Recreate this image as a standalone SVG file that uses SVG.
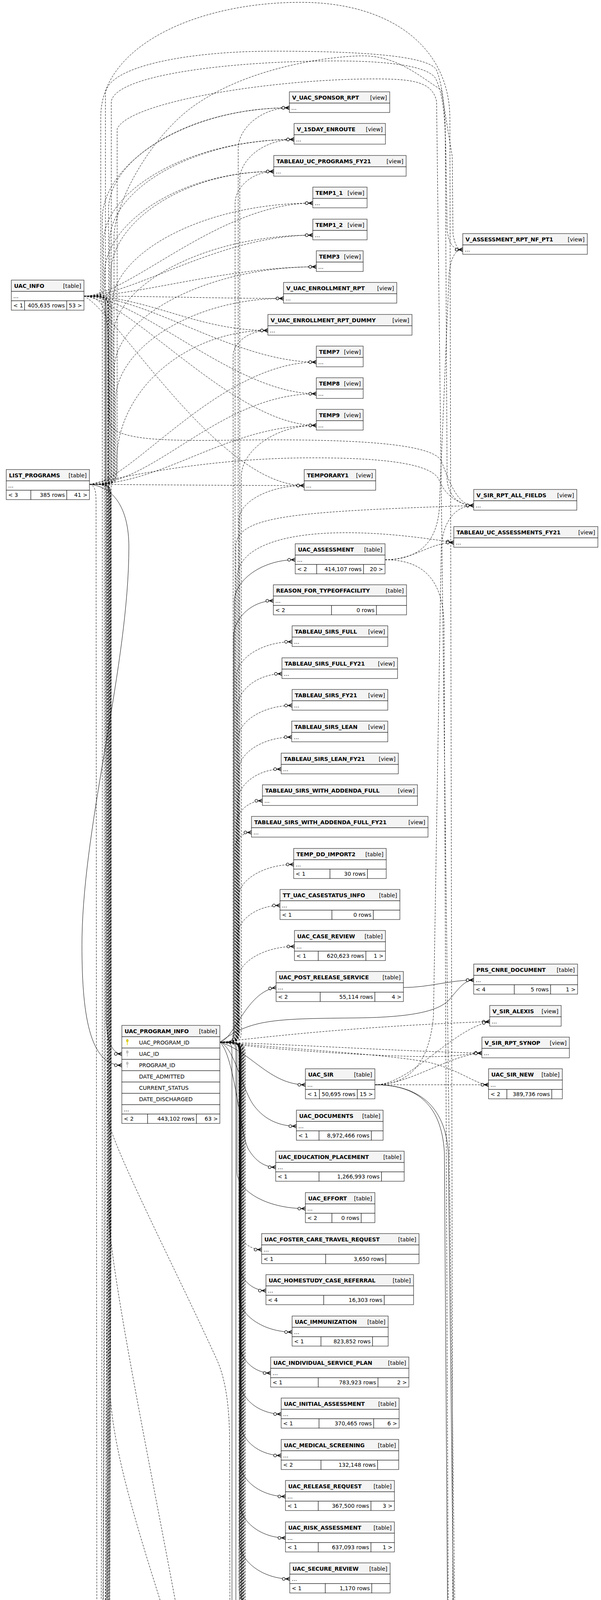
<svg xmlns="http://www.w3.org/2000/svg" xmlns:xlink="http://www.w3.org/1999/xlink" width="1539" height="6372" viewBox="0 0 1539 6372">
<style>
.hd{fill:#f4f4f4;stroke:#2a2a2a;stroke-width:1.2}
.bd{fill:#fff;stroke:#2a2a2a;stroke-width:1.2}
.nm{font-family:"DejaVu Sans","Liberation Sans",sans-serif;font-size:14px;font-weight:bold;fill:#000}
.tx{font-family:"DejaVu Sans","Liberation Sans",sans-serif;font-size:14px;fill:#000}
.e{text-anchor:end}
#connectors path{fill:none;stroke:#000;stroke-width:1}
#connectors .d{stroke-dasharray:5 3;marker-end:url(#cf)}
#connectors .s{marker-end:url(#cf)}
.thick{fill:none;stroke:#000;stroke-width:2.6}
</style>
<defs>
<marker id="cf" viewBox="0 0 22 14" refX="21" refY="7" markerWidth="22" markerHeight="14" markerUnits="userSpaceOnUse" orient="auto">
<circle cx="5.5" cy="7" r="3.6" fill="#fff" stroke="#000" stroke-width="1.4"/>
<path d="M9,7H21M11,7L21,2.5M11,7L21,11.5" fill="none" stroke="#000" stroke-width="1.4"/>
</marker>
<g id="kY"><ellipse cx="0" cy="-4" rx="2.6" ry="3.5" fill="#e6d300" stroke="#a89a00" stroke-width="0.6"/><rect x="-0.8" y="-1" width="1.6" height="8.5" fill="#e6d300"/></g>
<g id="kG"><ellipse cx="0" cy="-4" rx="2.6" ry="3.5" fill="#c4c4c4" stroke="#999" stroke-width="0.6"/><rect x="-0.8" y="-1" width="1.6" height="8.5" fill="#c4c4c4"/></g>
</defs>
<rect width="1539" height="6372" fill="#fff"/>

<g id="connectors">
<path class="d" d="M215,758 C262,758 262,758 262,718 L262,560 C262,418 478,276 741,276"/>
<path class="d" d="M215,758 C265,758 265,758 265,718 L265,620 C265,488 485,357 753,357"/>
<path class="d" d="M215,758 C268,758 268,758 268,718 L268,700 C268,570 464,439 701,439"/>
<path class="d" d="M215,758 C330,758 560,520 801,520"/>
<path class="d" d="M215,758 C340,758 560,602 801,602"/>
<path class="d" d="M215,758 C350,758 580,683 810,683"/>
<path class="d" d="M215,758 C400,758 550,764 726,764"/>
<path class="d" d="M215,758 C380,758 500,846 686,846"/>
<path class="d" d="M215,758 C380,758 600,927 810,927"/>
<path class="d" d="M215,758 C360,760 600,1008 810,1008"/>
<path class="d" d="M215,758 C340,770 600,1089 810,1089"/>
<path class="d" d="M215,758 C300,800 560,1243 779,1243"/>
<path class="d" d="M229,1240 C278,1240 278,1240 278,1200 L278,536 C278,406 486,276 741,276"/>
<path class="d" d="M229,1240 C281,1240 281,1240 281,1200 L281,617 C281,487 493,357 753,357"/>
<path class="d" d="M229,1240 C284,1240 284,1240 284,1200 L284,699 C284,569 472,439 701,439"/>
<path class="d" d="M229,1240 C287,1240 287,1240 287,1200 L287,780 C287,650 518,520 801,520"/>
<path class="d" d="M229,1240 C290,1240 290,1240 290,1200 L290,862 C290,732 520,602 801,602"/>
<path class="d" d="M229,1240 C293,1240 293,1240 293,1200 L293,943 C293,813 526,683 810,683"/>
<path class="d" d="M229,1240 C296,1240 296,1240 296,1200 L296,1024 C296,894 490,764 726,764"/>
<path class="d" d="M229,1240 C299,1240 299,1240 299,1180 C299,1000 475,846 686,846"/>
<path class="d" d="M229,1240 C330,1240 560,927 810,927"/>
<path class="d" d="M229,1240 C400,1240 560,1008 810,1008"/>
<path class="d" d="M229,1240 C420,1240 580,1089 810,1089"/>
<path class="d" d="M229,1240 C400,1241 600,1243 779,1243"/>
<path class="d" d="M215,758 C258,758 258,758 258,718 L258,300 C258,120 500,6 770,6 C1000,6 1150,120 1152,300 L1160,4300 C1165,4400 1240,4438 1285,4438"/>
<path class="d" d="M229,1240 C270,1240 270,1240 270,1200 L270,240 C275,170 480,131 700,131 C900,131 1100,140 1118,180 C1130,210 1138,260 1140,320 L1145,1230 C1150,1275 1180,1294 1213,1294"/>
<path class="d" d="M215,758 C285,758 285,758 285,718 L285,260 C295,190 600,156 860,156 C1000,156 1095,170 1115,200 C1135,240 1140,300 1142,400 L1145,590 C1150,625 1160,639 1185,639"/>
<path class="d" d="M229,1240 C300,1240 300,1240 300,1200 L300,330 C330,260 700,202 960,202 C1060,202 1108,210 1118,260 L1168,4400 C1172,4500 1200,4555 1260,4555"/>
<path class="d" d="M229,1240 C292,1240 292,1240 292,1200 L292,600 C300,500 400,330 513,260 C650,170 850,143 930,143 C1020,143 1080,200 1130,230 L1158,400 L1160,600 C1165,625 1170,639 1185,639"/>
<path class="d" d="M229,1240 C400,1200 600,1172 800,1172 C1000,1172 1110,1190 1125,1230 C1140,1270 1180,1294 1213,1294"/>
<path class="d" d="M215,758 C270,760 276,800 278,900 L280,1080 C290,1140 500,1126 700,1126 C950,1126 1110,1140 1130,1180 C1150,1230 1170,1294 1213,1294"/>
<path class="d" d="M563,2668 C610,2668 610,2668 610,2628 L610,380 C610,328 670,276 741,276"/>
<path class="d" d="M563,2668 C614,2668 614,2668 614,2628 L614,460 C614,408 676,357 753,357"/>
<path class="d" d="M563,2668 C602,2668 602,2668 602,2628 L602,520 C602,480 646,439 701,439"/>
<path class="d" d="M563,2668 C597,2668 597,2668 597,2628 L597,910 C597,878 637,846 686,846"/>
<path class="d" d="M563,2668 C618,2668 618,2668 618,2628 L618,1220 C618,1154 704,1089 810,1089"/>
<path class="d" d="M563,2668 C612,2668 612,2668 612,2628 L612,1330 C612,1286 687,1243 779,1243"/>
<path class="d" d="M563,2668 C604,2668 604,2668 604,2628 L604,1400 C604,1320 750,1310 1213,1294"/>
<path class="d" d="M563,2668 C607,2668 607,2668 607,2628 L607,1480 C607,1380 800,1330 1162,1389"/>
<path class="s" d="M563,2668 C600,2668 600,2668 600,2628 L600,1540 C600,1486 670,1433 756,1433"/>
<path class="s" d="M563,2668 C598,2668 598,2668 598,2628 L598,1630 C598,1584 644,1538 700,1538"/>
<path class="d" d="M563,2668 C606,2668 606,2668 606,2628 L606,1730 C606,1686 670,1643 748,1643"/>
<path class="d" d="M563,2668 C608,2668 608,2668 608,2628 L608,1810 C608,1768 659,1725 722,1725"/>
<path class="d" d="M563,2668 C610,2668 610,2668 610,2628 L610,1890 C610,1848 672,1806 748,1806"/>
<path class="d" d="M563,2668 C612,2668 612,2668 612,2628 L612,1970 C612,1928 673,1887 747,1887"/>
<path class="d" d="M563,2668 C609,2668 609,2668 609,2628 L609,2050 C609,2010 659,1969 720,1969"/>
<path class="d" d="M563,2668 C605,2668 605,2668 605,2628 L605,2110 C605,2080 635,2050 672,2050"/>
<path class="d" d="M563,2668 C602,2668 602,2668 602,2628 L602,2170 C602,2150 621,2131 644,2131"/>
<path class="d" d="M563,2668 C611,2668 611,2668 611,2628 L611,2295 C611,2254 674,2213 752,2213"/>
<path class="d" d="M563,2668 C608,2668 608,2668 608,2628 L608,2395 C608,2356 657,2318 717,2318"/>
<path class="d" d="M563,2668 C610,2668 610,2668 610,2628 L610,2505 C610,2464 675,2423 754,2423"/>
<path class="s" d="M563,2668 C600,2660 630,2540 707,2528"/>
<path class="s" d="M563,2668 C640,2610 700,2608 900,2606 C1050,2605 1120,2590 1150,2560 C1175,2530 1190,2509 1213,2509"/>
<path class="s" d="M1033,2528 C1100,2528 1150,2509 1213,2509"/>
<path class="d" d="M563,2668 C800,2640 1000,2625 1254,2615"/>
<path class="d" d="M563,2668 C800,2676 1000,2690 1234,2696"/>
<path class="d" d="M563,2668 C700,2690 1000,2705 1100,2705 C1180,2705 1200,2696 1234,2696"/>
<path class="d" d="M563,2668 C800,2690 1000,2700 1100,2720 C1180,2740 1220,2777 1251,2777"/>
<path class="s" d="M563,2668 C640,2690 690,2777 782,2777"/>
<path class="s" d="M563,2668 C600,2680 620,2790 650,2830 C680,2870 720,2883 759,2883"/>
<path class="s" d="M563,2668 C600,2700 615,2900 635,2940 C655,2975 680,2988 706,2988"/>
<path class="s" d="M563,2668 C607,2668 607,2668 607,2708 L607,3000 C607,3047 680,3094 782,3094"/>
<path class="d" d="M563,2668 C612,2668 612,2668 612,2708 L612,3150 C612,3175 638,3199 670,3199"/>
<path class="s" d="M563,2668 C614,2668 614,2668 614,2708 L614,3240 C614,3272 644,3304 681,3304"/>
<path class="s" d="M563,2668 C612,2668 612,2668 612,2708 L612,3320 C612,3365 673,3410 748,3410"/>
<path class="s" d="M563,2668 C614,2668 614,2668 614,2708 L614,3440 C614,3478 649,3515 693,3515"/>
<path class="s" d="M563,2668 C616,2668 616,2668 616,2708 L616,3540 C616,3580 663,3620 720,3620"/>
<path class="s" d="M563,2668 C617,2668 617,2668 617,2708 L617,3645 C617,3686 663,3726 720,3726"/>
<path class="s" d="M563,2668 C615,2668 615,2668 615,2708 L615,3745 C615,3788 667,3831 731,3831"/>
<path class="s" d="M563,2668 C615,2668 615,2668 615,2708 L615,3850 C615,3894 667,3937 731,3937"/>
<path class="s" d="M563,2668 C614,2668 614,2668 614,2708 L614,3950 C614,3996 672,4042 742,4042"/>
<path class="d" d="M563,2668 C612,2668 612,2668 612,2708 L612,4065 C612,4106 663,4147 726,4147"/>
<path class="s" d="M563,2668 C613,2668 613,2668 613,2708 L613,4160 C613,4206 671,4252 742,4252"/>
<path class="d" d="M563,2668 C615,2668 615,2668 615,2708 L615,4275 C615,4316 667,4358 730,4358"/>
<path class="d" d="M563,2668 C618,2668 618,2668 618,2708 L618,4400 C618,4438 661,4475 713,4475"/>
<path class="d" d="M563,2668 C617,2668 617,2668 617,2708 L617,4490 C617,4524 655,4557 702,4557"/>
<path class="d" d="M563,2668 C622,2668 622,2668 622,2708 L622,4720 C622,4752 652,4783 688,4783"/>
<path class="d" d="M563,2668 C623,2668 623,2668 623,2708 L623,4790 C623,4826 664,4863 714,4863"/>
<path class="d" d="M563,2668 C620,2668 620,2668 620,2708 L620,4950 C620,4988 658,5025 704,5025"/>
<path class="s" d="M563,2668 C618,2668 618,2668 618,2708 L618,5050 C618,5090 665,5131 723,5131"/>
<path class="d" d="M563,2668 C616,2668 616,2668 616,2708 L616,5150 C616,5193 679,5236 756,5236"/>
<path class="s" d="M563,2668 C604,2668 604,2668 604,2708 L604,5290 C604,5322 645,5354 695,5354"/>
<path class="s" d="M563,2668 C594,2668 594,2668 594,2708 L594,5600 C594,5700 630,5745 665,5745"/>
<path class="d" d="M563,2668 C622,2668 622,2668 622,2708 L622,4330 C622,4390 800,4400 1000,4405 C1150,4410 1230,4438 1285,4438"/>
<path class="d" d="M563,2668 C624,2668 624,2668 624,2708 L624,4600 C627,4640 800,4648 1285,4637"/>
<path class="d" d="M563,2668 C626,2668 626,2668 626,2708 L626,4640 C642,4690 1000,4690 1223,4718"/>
<path class="d" d="M563,2668 C620,2668 620,2668 620,2708 L620,4540 C627,4600 750,4615 900,4610 C1100,4600 1180,4555 1260,4555"/>
<path class="d" d="M563,2668 C628,2668 628,2668 628,2708 L628,4690 C642,4725 800,4722 1000,4715 C1110,4712 1140,4740 1150,4800 L1160,5050 C1170,5130 1220,5165 1269,5165"/>
<path class="d" d="M960,2777 L1251,2777"/>
<path class="d" d="M960,2777 C1050,2777 1150,2700 1234,2696"/>
<path class="d" d="M960,2777 C1050,2777 1150,2640 1254,2615"/>
<path class="d" d="M960,2777 C1050,2777 1100,2720 1110,2600 L1130,1400 C1135,1330 1170,1294 1213,1294"/>
<path class="s" d="M960,2777 C1060,2777 1130,2820 1138,2950 L1150,4700 C1168,4880 1166,5000 1175,5090 C1185,5150 1230,5165 1269,5165"/>
<path class="s" d="M960,2777 C1070,2777 1140,2830 1148,2950 L1165,4450 C1170,4510 1210,4555 1260,4555"/>
<path class="d" d="M986,1433 C1060,1433 1100,1389 1162,1389"/>
<path class="d" d="M986,1433 C1080,1433 1120,1380 1125,1300 L1150,700 C1155,660 1165,639 1185,639"/>
<path class="d" d="M986,1433 C1080,1433 1135,1480 1137,1600 L1150,4600 C1155,4680 1190,4718 1223,4718"/>
<path class="s" d="M215,758 C272,758 272,758 272,800 L272,2600 C272,2670 290,2698 312,2698"/>
<path class="s" d="M229,1240 C290,1245 330,1300 330,1400 C330,1700 215,2100 210,2400 C208,2600 230,2727 312,2727"/>
<path class="d" d="M215,758 C276,758 276,758 276,800 L276,2860 C280,2920 450,3250 555,3480 C582,3540 588,3620 588,3700 L590,4700 C592,4750 630,4783 688,4783"/>
<path class="d" d="M229,1240 C280,1240 280,1240 280,1280 L280,3000 L270,4620 C280,4720 540,4783 688,4783"/>
<path class="d" d="M215,758 C276,758 276,758 276,800 L276,3000 L266,4700 C270,4800 420,4856 714,4863"/>
<path class="d" d="M229,1240 C283,1240 283,1240 283,1280 L283,3000 L272,4800 C280,4900 430,4955 685,4945"/>
<path class="d" d="M215,758 C270,758 270,758 270,800 L270,3000 L262,4600 C272,4750 600,4850 685,4945"/>
<path class="d" d="M229,1240 C279,1240 279,1240 279,1280 L279,3000 L270,4940 C276,5020 440,5044 704,5025"/>
<path class="d" d="M215,758 C281,758 281,758 281,800 L281,3000 L272,5050 C281,5130 480,5147 723,5131"/>
<path class="d" d="M229,1240 C282,1240 282,1240 282,1280 L282,3000 L274,5150 C282,5230 480,5254 756,5236"/>
<path class="s" d="M229,1240 C284,1240 284,1240 284,1280 L284,3000 L276,5290 C292,5340 360,5375 454,5375 C560,5375 620,5354 695,5354"/>
<path class="d" d="M215,758 C267,758 267,758 267,800 L267,3000 L260,5350 C260,5500 450,5515 746,5515 C950,5515 1100,5480 1105,5400 L1110,5250 C1115,5180 1200,5165 1269,5165"/>
<path class="d" d="M229,1240 C274,1240 274,1240 274,1280 L274,3000 L266,5420 C268,5540 430,5562 605,5562 C800,5562 1000,5540 1101,5520 C1150,5480 1160,5300 1175,5230 C1190,5180 1230,5165 1269,5165"/>
<path class="d" d="M215,758 C285,758 285,758 285,800 L285,3000 L276,5500 C278,5590 450,5609 605,5609 C850,5609 1100,5590 1109,5568 C1140,5500 1150,5300 1160,5000 L1165,4800 C1170,4740 1200,4722 1223,4722"/>
<path class="d" d="M229,1240 C246,1244 246,1260 246,1300 L248,4200 C250,4800 262,5300 266,5460 C275,5570 500,5585 760,5585 C1000,5585 1120,5560 1128,5450 L1131,4700 C1135,4660 1230,4637 1285,4637"/>
<path class="d" d="M215,758 C277,758 277,758 277,800 L277,3000 L268,5450 C271,5530 500,5540 760,5540 C1000,5540 1115,5520 1122,5420 L1126,4500 C1130,4460 1230,4438 1285,4438"/>
<path class="d" d="M215,758 C262,758 262,758 262,800 L262,3000 L256,5380 C259,5480 500,5495 760,5495 C1000,5495 1110,5470 1118,5380 L1121,4620 C1125,4575 1200,4555 1260,4555"/>
<path class="d" d="M215,758 C278,758 278,758 278,800 L278,3100 C282,3300 460,4100 515,4480 C560,4800 600,5100 605,5300 L606,5380 C610,5470 700,5500 800,5500 C1000,5500 1090,5480 1100,5400 L1105,5250 C1110,5190 1200,5165 1269,5165"/>
<path class="d" d="M229,1240 C282,1240 282,1240 282,1280 L282,3560 C290,3800 460,4200 510,4450 C550,4650 590,4900 598,5100 L600,5400 C603,5510 680,5560 760,5560 C1000,5560 1118,5540 1124,5430 L1128,4520 C1132,4470 1230,4438 1285,4438"/>
<path class="s" d="M523,5737 C580,5775 620,5804 665,5804"/>
<path class="d" d="M579,5665 C700,5640 900,5634 1196,5634"/>
<path class="s" d="M580,5834 L665,5834"/>
<path class="s" d="M457,6087 C490,5990 580,5893 665,5893"/>
<path class="d" d="M486,6170 C560,6280 700,6322 870,6322 C1050,6322 1250,6250 1300,6122"/>
<path class="d" d="M1075,5716 C1110,5716 1140,5690 1185,5677"/>
<path class="d" d="M1075,5716 C1120,5716 1140,5748 1182,5748"/>
<path class="d" d="M1075,5716 C1100,5716 1110,5760 1130,5820 C1180,5950 1290,5990 1300,6045"/>
</g>

<g id="UAC_INFO" transform="translate(29,717)"><rect class="hd" width="186" height="29"/><rect class="bd" y="29" width="186" height="24"/><rect class="bd" y="53" width="34" height="24"/><rect class="bd" x="34" y="53" width="108" height="24"/><rect class="bd" x="142" y="53" width="44" height="24"/><text class="nm" x="7" y="20">UAC_INFO</text><text class="tx e" x="179" y="20">[table]</text><text class="tx" x="5" y="46">...</text><text class="tx" x="5" y="70">&lt; 1</text><text class="tx e" x="137" y="70">405,635 rows</text><text class="tx e" x="181" y="70">53 &gt;</text></g>

<g id="LIST_PROGRAMS" transform="translate(16,1202)"><rect class="hd" width="213" height="29"/><rect class="bd" y="29" width="213" height="24"/><rect class="bd" y="53" width="63" height="24"/><rect class="bd" x="63" y="53" width="92" height="24"/><rect class="bd" x="155" y="53" width="58" height="24"/><text class="nm" x="7" y="20">LIST_PROGRAMS</text><text class="tx e" x="206" y="20">[table]</text><text class="tx" x="5" y="46">...</text><text class="tx" x="5" y="70">&lt; 3</text><text class="tx e" x="150" y="70">385 rows</text><text class="tx e" x="208" y="70">41 &gt;</text></g>

<g id="V_UAC_SPONSOR_RPT" transform="translate(741,235)"><rect class="hd" width="257" height="29"/><rect class="bd" y="29" width="257" height="24"/><text class="nm" x="7" y="20">V_UAC_SPONSOR_RPT</text><text class="tx e" x="250" y="20">[view]</text><text class="tx" x="5" y="46">...</text></g>
<g id="V_15DAY_ENROUTE" transform="translate(753,316)"><rect class="hd" width="234" height="29"/><rect class="bd" y="29" width="234" height="24"/><text class="nm" x="7" y="20">V_15DAY_ENROUTE</text><text class="tx e" x="227" y="20">[view]</text><text class="tx" x="5" y="46">...</text></g>
<g id="TABLEAU_UC_PROGRAMS_FY21" transform="translate(701,398)"><rect class="hd" width="339" height="29"/><rect class="bd" y="29" width="339" height="24"/><text class="nm" x="7" y="20">TABLEAU_UC_PROGRAMS_FY21</text><text class="tx e" x="332" y="20">[view]</text><text class="tx" x="5" y="46">...</text></g>
<g id="TEMP1_1" transform="translate(801,479)"><rect class="hd" width="139" height="29"/><rect class="bd" y="29" width="139" height="24"/><text class="nm" x="7" y="20">TEMP1_1</text><text class="tx e" x="132" y="20">[view]</text><text class="tx" x="5" y="46">...</text></g>
<g id="TEMP1_2" transform="translate(801,561)"><rect class="hd" width="139" height="29"/><rect class="bd" y="29" width="139" height="24"/><text class="nm" x="7" y="20">TEMP1_2</text><text class="tx e" x="132" y="20">[view]</text><text class="tx" x="5" y="46">...</text></g>
<g id="TEMP3" transform="translate(810,642)"><rect class="hd" width="120" height="29"/><rect class="bd" y="29" width="120" height="24"/><text class="nm" x="7" y="20">TEMP3</text><text class="tx e" x="114" y="20">[view]</text><text class="tx" x="5" y="46">...</text></g>
<g id="V_UAC_ENROLLMENT_RPT" transform="translate(726,723)"><rect class="hd" width="290" height="29"/><rect class="bd" y="29" width="290" height="24"/><text class="nm" x="7" y="20">V_UAC_ENROLLMENT_RPT</text><text class="tx e" x="283" y="20">[view]</text><text class="tx" x="5" y="46">...</text></g>
<g id="V_UAC_ENROLLMENT_RPT_DUMMY" transform="translate(686,805)"><rect class="hd" width="369" height="29"/><rect class="bd" y="29" width="369" height="24"/><text class="nm" x="7" y="20">V_UAC_ENROLLMENT_RPT_DUMMY</text><text class="tx e" x="362" y="20">[view]</text><text class="tx" x="5" y="46">...</text></g>
<g id="TEMP7" transform="translate(810,886)"><rect class="hd" width="120" height="29"/><rect class="bd" y="29" width="120" height="24"/><text class="nm" x="7" y="20">TEMP7</text><text class="tx e" x="114" y="20">[view]</text><text class="tx" x="5" y="46">...</text></g>
<g id="TEMP8" transform="translate(810,967)"><rect class="hd" width="120" height="29"/><rect class="bd" y="29" width="120" height="24"/><text class="nm" x="7" y="20">TEMP8</text><text class="tx e" x="114" y="20">[view]</text><text class="tx" x="5" y="46">...</text></g>
<g id="TEMP9" transform="translate(810,1048)"><rect class="hd" width="120" height="29"/><rect class="bd" y="29" width="120" height="24"/><text class="nm" x="7" y="20">TEMP9</text><text class="tx e" x="114" y="20">[view]</text><text class="tx" x="5" y="46">...</text></g>
<g id="TEMPORARY1" transform="translate(779,1202)"><rect class="hd" width="183" height="29"/><rect class="bd" y="29" width="183" height="24"/><text class="nm" x="7" y="20">TEMPORARY1</text><text class="tx e" x="176" y="20">[view]</text><text class="tx" x="5" y="46">...</text></g>
<g id="V_ASSESSMENT_RPT_NF_PT1" transform="translate(1185,598)"><rect class="hd" width="319" height="29"/><rect class="bd" y="29" width="319" height="24"/><text class="nm" x="7" y="20">V_ASSESSMENT_RPT_NF_PT1</text><text class="tx e" x="312" y="20">[view]</text><text class="tx" x="5" y="46">...</text></g>
<g id="V_SIR_RPT_ALL_FIELDS" transform="translate(1213,1253)"><rect class="hd" width="264" height="29"/><rect class="bd" y="29" width="264" height="24"/><text class="nm" x="7" y="20">V_SIR_RPT_ALL_FIELDS</text><text class="tx e" x="257" y="20">[view]</text><text class="tx" x="5" y="46">...</text></g>
<g id="TABLEAU_UC_ASSESSMENTS_FY21" transform="translate(1162,1348)"><rect class="hd" width="369" height="29"/><rect class="bd" y="29" width="369" height="24"/><text class="nm" x="7" y="20">TABLEAU_UC_ASSESSMENTS_FY21</text><text class="tx e" x="362" y="20">[view]</text><text class="tx" x="5" y="46">...</text></g>

<g id="UAC_ASSESSMENT" transform="translate(756,1392)"><rect class="hd" width="230" height="29"/><rect class="bd" y="29" width="230" height="24"/><rect class="bd" y="53" width="55" height="24"/><rect class="bd" x="55" y="53" width="120" height="24"/><rect class="bd" x="175" y="53" width="55" height="24"/><text class="nm" x="7" y="20">UAC_ASSESSMENT</text><text class="tx e" x="223" y="20">[table]</text><text class="tx" x="5" y="46">...</text><text class="tx" x="5" y="70">&lt; 2</text><text class="tx e" x="170" y="70">414,107 rows</text><text class="tx e" x="225" y="70">20 &gt;</text></g>
<g id="REASON_FOR_TYPEOFFACILITY" transform="translate(700,1497)"><rect class="hd" width="341" height="29"/><rect class="bd" y="29" width="341" height="24"/><rect class="bd" y="53" width="149" height="24"/><rect class="bd" x="149" y="53" width="115" height="24"/><rect class="bd" x="264" y="53" width="77" height="24"/><text class="nm" x="7" y="20">REASON_FOR_TYPEOFFACILITY</text><text class="tx e" x="334" y="20">[table]</text><text class="tx" x="5" y="46">...</text><text class="tx" x="5" y="70">&lt; 2</text><text class="tx e" x="259" y="70">0 rows</text></g>
<g id="TABLEAU_SIRS_FULL" transform="translate(748,1602)"><rect class="hd" width="245" height="29"/><rect class="bd" y="29" width="245" height="24"/><text class="nm" x="7" y="20">TABLEAU_SIRS_FULL</text><text class="tx e" x="238" y="20">[view]</text><text class="tx" x="5" y="46">...</text></g>
<g id="TABLEAU_SIRS_FULL_FY21" transform="translate(722,1684)"><rect class="hd" width="296" height="29"/><rect class="bd" y="29" width="296" height="24"/><text class="nm" x="7" y="20">TABLEAU_SIRS_FULL_FY21</text><text class="tx e" x="289" y="20">[view]</text><text class="tx" x="5" y="46">...</text></g>
<g id="TABLEAU_SIRS_FY21" transform="translate(748,1765)"><rect class="hd" width="245" height="29"/><rect class="bd" y="29" width="245" height="24"/><text class="nm" x="7" y="20">TABLEAU_SIRS_FY21</text><text class="tx e" x="238" y="20">[view]</text><text class="tx" x="5" y="46">...</text></g>
<g id="TABLEAU_SIRS_LEAN" transform="translate(747,1846)"><rect class="hd" width="246" height="29"/><rect class="bd" y="29" width="246" height="24"/><text class="nm" x="7" y="20">TABLEAU_SIRS_LEAN</text><text class="tx e" x="239" y="20">[view]</text><text class="tx" x="5" y="46">...</text></g>
<g id="TABLEAU_SIRS_LEAN_FY21" transform="translate(720,1928)"><rect class="hd" width="300" height="29"/><rect class="bd" y="29" width="300" height="24"/><text class="nm" x="7" y="20">TABLEAU_SIRS_LEAN_FY21</text><text class="tx e" x="293" y="20">[view]</text><text class="tx" x="5" y="46">...</text></g>
<g id="TABLEAU_SIRS_WITH_ADDENDA_FULL" transform="translate(672,2009)"><rect class="hd" width="397" height="29"/><rect class="bd" y="29" width="397" height="24"/><text class="nm" x="7" y="20">TABLEAU_SIRS_WITH_ADDENDA_FULL</text><text class="tx e" x="390" y="20">[view]</text><text class="tx" x="5" y="46">...</text></g>
<g id="TABLEAU_SIRS_WITH_ADDENDA_FULL_FY21" transform="translate(644,2090)"><rect class="hd" width="452" height="29"/><rect class="bd" y="29" width="452" height="24"/><text class="nm" x="7" y="20">TABLEAU_SIRS_WITH_ADDENDA_FULL_FY21</text><text class="tx e" x="445" y="20">[view]</text><text class="tx" x="5" y="46">...</text></g>
<g id="TEMP_DD_IMPORT2" transform="translate(752,2172)"><rect class="hd" width="237" height="29"/><rect class="bd" y="29" width="237" height="24"/><rect class="bd" y="53" width="93" height="24"/><rect class="bd" x="93" y="53" width="96" height="24"/><rect class="bd" x="189" y="53" width="48" height="24"/><text class="nm" x="7" y="20">TEMP_DD_IMPORT2</text><text class="tx e" x="230" y="20">[table]</text><text class="tx" x="5" y="46">...</text><text class="tx" x="5" y="70">&lt; 1</text><text class="tx e" x="184" y="70">30 rows</text></g>
<g id="TT_UAC_CASESTATUS_INFO" transform="translate(717,2277)"><rect class="hd" width="307" height="29"/><rect class="bd" y="29" width="307" height="24"/><rect class="bd" y="53" width="133" height="24"/><rect class="bd" x="133" y="53" width="106" height="24"/><rect class="bd" x="239" y="53" width="68" height="24"/><text class="nm" x="7" y="20">TT_UAC_CASESTATUS_INFO</text><text class="tx e" x="300" y="20">[table]</text><text class="tx" x="5" y="46">...</text><text class="tx" x="5" y="70">&lt; 1</text><text class="tx e" x="234" y="70">0 rows</text></g>
<g id="UAC_CASE_REVIEW" transform="translate(754,2382)"><rect class="hd" width="233" height="29"/><rect class="bd" y="29" width="233" height="24"/><rect class="bd" y="53" width="61" height="24"/><rect class="bd" x="61" y="53" width="122" height="24"/><rect class="bd" x="183" y="53" width="50" height="24"/><text class="nm" x="7" y="20">UAC_CASE_REVIEW</text><text class="tx e" x="226" y="20">[table]</text><text class="tx" x="5" y="46">...</text><text class="tx" x="5" y="70">&lt; 1</text><text class="tx e" x="178" y="70">620,623 rows</text><text class="tx e" x="228" y="70">1 &gt;</text></g>
<g id="UAC_POST_RELEASE_SERVICE" transform="translate(707,2487)"><rect class="hd" width="326" height="29"/><rect class="bd" y="29" width="326" height="24"/><rect class="bd" y="53" width="113" height="24"/><rect class="bd" x="113" y="53" width="140" height="24"/><rect class="bd" x="253" y="53" width="73" height="24"/><text class="nm" x="7" y="20">UAC_POST_RELEASE_SERVICE</text><text class="tx e" x="319" y="20">[table]</text><text class="tx" x="5" y="46">...</text><text class="tx" x="5" y="70">&lt; 2</text><text class="tx e" x="248" y="70">55,114 rows</text><text class="tx e" x="321" y="70">4 &gt;</text></g>
<g id="PRS_CNRE_DOCUMENT" transform="translate(1213,2468)"><rect class="hd" width="266" height="29"/><rect class="bd" y="29" width="266" height="24"/><rect class="bd" y="53" width="104" height="24"/><rect class="bd" x="104" y="53" width="93" height="24"/><rect class="bd" x="197" y="53" width="69" height="24"/><text class="nm" x="7" y="20">PRS_CNRE_DOCUMENT</text><text class="tx e" x="259" y="20">[table]</text><text class="tx" x="5" y="46">...</text><text class="tx" x="5" y="70">&lt; 4</text><text class="tx e" x="192" y="70">5 rows</text><text class="tx e" x="261" y="70">1 &gt;</text></g>
<g id="V_SIR_ALEXIS" transform="translate(1254,2574)"><rect class="hd" width="183" height="29"/><rect class="bd" y="29" width="183" height="24"/><text class="nm" x="7" y="20">V_SIR_ALEXIS</text><text class="tx e" x="176" y="20">[view]</text><text class="tx" x="5" y="46">...</text></g>
<g id="V_SIR_RPT_SYNOP" transform="translate(1234,2655)"><rect class="hd" width="224" height="29"/><rect class="bd" y="29" width="224" height="24"/><text class="nm" x="7" y="20">V_SIR_RPT_SYNOP</text><text class="tx e" x="217" y="20">[view]</text><text class="tx" x="5" y="46">...</text></g>
<g id="UAC_SIR_NEW" transform="translate(1251,2736)"><rect class="hd" width="189" height="29"/><rect class="bd" y="29" width="189" height="24"/><rect class="bd" y="53" width="47" height="24"/><rect class="bd" x="47" y="53" width="115" height="24"/><rect class="bd" x="162" y="53" width="27" height="24"/><text class="nm" x="7" y="20">UAC_SIR_NEW</text><text class="tx e" x="182" y="20">[table]</text><text class="tx" x="5" y="46">...</text><text class="tx" x="5" y="70">&lt; 2</text><text class="tx e" x="157" y="70">389,736 rows</text></g>
<g id="UAC_SIR" transform="translate(782,2736)"><rect class="hd" width="178" height="29"/><rect class="bd" y="29" width="178" height="24"/><rect class="bd" y="53" width="36" height="24"/><rect class="bd" x="36" y="53" width="97" height="24"/><rect class="bd" x="133" y="53" width="45" height="24"/><text class="nm" x="7" y="20">UAC_SIR</text><text class="tx e" x="171" y="20">[table]</text><text class="tx" x="5" y="46">...</text><text class="tx" x="5" y="70">&lt; 1</text><text class="tx e" x="128" y="70">50,695 rows</text><text class="tx e" x="173" y="70">15 &gt;</text></g>

<g id="UAC_PROGRAM_INFO" transform="translate(312,2625)"><rect class="hd" width="251" height="29"/><rect class="bd" y="29" width="251" height="29"/><rect class="bd" y="58" width="251" height="29"/><rect class="bd" y="87" width="251" height="29"/><rect class="bd" y="116" width="251" height="29"/><rect class="bd" y="145" width="251" height="29"/><rect class="bd" y="174" width="251" height="29"/><rect class="bd" y="203" width="251" height="24"/><rect class="bd" y="227" width="66" height="24"/><rect class="bd" x="66" y="227" width="125" height="24"/><rect class="bd" x="191" y="227" width="60" height="24"/><text class="nm" x="7" y="20">UAC_PROGRAM_INFO</text><text class="tx e" x="244" y="20">[table]</text><use xlink:href="#kY" x="14" y="43"/><text class="tx" x="44" y="49">UAC_PROGRAM_ID</text><use xlink:href="#kG" x="14" y="72"/><text class="tx" x="44" y="78">UAC_ID</text><use xlink:href="#kG" x="14" y="101"/><text class="tx" x="44" y="107">PROGRAM_ID</text><text class="tx" x="44" y="136">DATE_ADMITTED</text><text class="tx" x="44" y="165">CURRENT_STATUS</text><text class="tx" x="44" y="194">DATE_DISCHARGED</text><text class="tx" x="5" y="220">...</text><text class="tx" x="5" y="244">&lt; 2</text><text class="tx e" x="186" y="244">443,102 rows</text><text class="tx e" x="246" y="244">63 &gt;</text></g>

<g id="UAC_DOCUMENTS" transform="translate(759,2842)"><rect class="hd" width="222" height="29"/><rect class="bd" y="29" width="222" height="24"/><rect class="bd" y="53" width="58" height="24"/><rect class="bd" x="58" y="53" width="134" height="24"/><rect class="bd" x="192" y="53" width="30" height="24"/><text class="nm" x="7" y="20">UAC_DOCUMENTS</text><text class="tx e" x="215" y="20">[table]</text><text class="tx" x="5" y="46">...</text><text class="tx" x="5" y="70">&lt; 1</text><text class="tx e" x="187" y="70">8,972,466 rows</text></g>
<g id="UAC_EDUCATION_PLACEMENT" transform="translate(706,2947)"><rect class="hd" width="329" height="29"/><rect class="bd" y="29" width="329" height="24"/><rect class="bd" y="53" width="111" height="24"/><rect class="bd" x="111" y="53" width="160" height="24"/><rect class="bd" x="271" y="53" width="58" height="24"/><text class="nm" x="7" y="20">UAC_EDUCATION_PLACEMENT</text><text class="tx e" x="322" y="20">[table]</text><text class="tx" x="5" y="46">...</text><text class="tx" x="5" y="70">&lt; 1</text><text class="tx e" x="266" y="70">1,266,993 rows</text></g>
<g id="UAC_EFFORT" transform="translate(782,3053)"><rect class="hd" width="178" height="29"/><rect class="bd" y="29" width="178" height="24"/><rect class="bd" y="53" width="68" height="24"/><rect class="bd" x="68" y="53" width="75" height="24"/><rect class="bd" x="143" y="53" width="35" height="24"/><text class="nm" x="7" y="20">UAC_EFFORT</text><text class="tx e" x="171" y="20">[table]</text><text class="tx" x="5" y="46">...</text><text class="tx" x="5" y="70">&lt; 2</text><text class="tx e" x="138" y="70">0 rows</text></g>
<g id="UAC_FOSTER_CARE_TRAVEL_REQUEST" transform="translate(670,3158)"><rect class="hd" width="403" height="29"/><rect class="bd" y="29" width="403" height="24"/><rect class="bd" y="53" width="164" height="24"/><rect class="bd" x="164" y="53" width="154" height="24"/><rect class="bd" x="318" y="53" width="85" height="24"/><text class="nm" x="7" y="20">UAC_FOSTER_CARE_TRAVEL_REQUEST</text><text class="tx e" x="396" y="20">[table]</text><text class="tx" x="5" y="46">...</text><text class="tx" x="5" y="70">&lt; 1</text><text class="tx e" x="313" y="70">3,650 rows</text></g>
<g id="UAC_HOMESTUDY_CASE_REFERRAL" transform="translate(681,3263)"><rect class="hd" width="378" height="29"/><rect class="bd" y="29" width="378" height="24"/><rect class="bd" y="53" width="148" height="24"/><rect class="bd" x="148" y="53" width="155" height="24"/><rect class="bd" x="303" y="53" width="75" height="24"/><text class="nm" x="7" y="20">UAC_HOMESTUDY_CASE_REFERRAL</text><text class="tx e" x="371" y="20">[table]</text><text class="tx" x="5" y="46">...</text><text class="tx" x="5" y="70">&lt; 4</text><text class="tx e" x="298" y="70">16,303 rows</text></g>
<g id="UAC_IMMUNIZATION" transform="translate(748,3369)"><rect class="hd" width="246" height="29"/><rect class="bd" y="29" width="246" height="24"/><rect class="bd" y="53" width="74" height="24"/><rect class="bd" x="74" y="53" width="132" height="24"/><rect class="bd" x="206" y="53" width="40" height="24"/><text class="nm" x="7" y="20">UAC_IMMUNIZATION</text><text class="tx e" x="239" y="20">[table]</text><text class="tx" x="5" y="46">...</text><text class="tx" x="5" y="70">&lt; 1</text><text class="tx e" x="201" y="70">823,852 rows</text></g>
<g id="UAC_INDIVIDUAL_SERVICE_PLAN" transform="translate(693,3474)"><rect class="hd" width="354" height="29"/><rect class="bd" y="29" width="354" height="24"/><rect class="bd" y="53" width="122" height="24"/><rect class="bd" x="122" y="53" width="153" height="24"/><rect class="bd" x="275" y="53" width="79" height="24"/><text class="nm" x="7" y="20">UAC_INDIVIDUAL_SERVICE_PLAN</text><text class="tx e" x="347" y="20">[table]</text><text class="tx" x="5" y="46">...</text><text class="tx" x="5" y="70">&lt; 1</text><text class="tx e" x="270" y="70">783,923 rows</text><text class="tx e" x="349" y="70">2 &gt;</text></g>
<g id="UAC_INITIAL_ASSESSMENT" transform="translate(720,3579)"><rect class="hd" width="302" height="29"/><rect class="bd" y="29" width="302" height="24"/><rect class="bd" y="53" width="97" height="24"/><rect class="bd" x="97" y="53" width="140" height="24"/><rect class="bd" x="237" y="53" width="65" height="24"/><text class="nm" x="7" y="20">UAC_INITIAL_ASSESSMENT</text><text class="tx e" x="295" y="20">[table]</text><text class="tx" x="5" y="46">...</text><text class="tx" x="5" y="70">&lt; 1</text><text class="tx e" x="232" y="70">370,465 rows</text><text class="tx e" x="297" y="70">6 &gt;</text></g>
<g id="UAC_MEDICAL_SCREENING" transform="translate(720,3685)"><rect class="hd" width="301" height="29"/><rect class="bd" y="29" width="301" height="24"/><rect class="bd" y="53" width="102" height="24"/><rect class="bd" x="102" y="53" width="145" height="24"/><rect class="bd" x="247" y="53" width="54" height="24"/><text class="nm" x="7" y="20">UAC_MEDICAL_SCREENING</text><text class="tx e" x="294" y="20">[table]</text><text class="tx" x="5" y="46">...</text><text class="tx" x="5" y="70">&lt; 2</text><text class="tx e" x="242" y="70">132,148 rows</text></g>
<g id="UAC_RELEASE_REQUEST" transform="translate(731,3790)"><rect class="hd" width="279" height="29"/><rect class="bd" y="29" width="279" height="24"/><rect class="bd" y="53" width="84" height="24"/><rect class="bd" x="84" y="53" width="135" height="24"/><rect class="bd" x="219" y="53" width="60" height="24"/><text class="nm" x="7" y="20">UAC_RELEASE_REQUEST</text><text class="tx e" x="272" y="20">[table]</text><text class="tx" x="5" y="46">...</text><text class="tx" x="5" y="70">&lt; 1</text><text class="tx e" x="214" y="70">367,500 rows</text><text class="tx e" x="274" y="70">3 &gt;</text></g>
<g id="UAC_RISK_ASSESSMENT" transform="translate(731,3896)"><rect class="hd" width="279" height="29"/><rect class="bd" y="29" width="279" height="24"/><rect class="bd" y="53" width="84" height="24"/><rect class="bd" x="84" y="53" width="135" height="24"/><rect class="bd" x="219" y="53" width="60" height="24"/><text class="nm" x="7" y="20">UAC_RISK_ASSESSMENT</text><text class="tx e" x="272" y="20">[table]</text><text class="tx" x="5" y="46">...</text><text class="tx" x="5" y="70">&lt; 1</text><text class="tx e" x="214" y="70">637,093 rows</text><text class="tx e" x="274" y="70">1 &gt;</text></g>
<g id="UAC_SECURE_REVIEW" transform="translate(742,4001)"><rect class="hd" width="257" height="29"/><rect class="bd" y="29" width="257" height="24"/><rect class="bd" y="53" width="91" height="24"/><rect class="bd" x="91" y="53" width="119" height="24"/><rect class="bd" x="210" y="53" width="47" height="24"/><text class="nm" x="7" y="20">UAC_SECURE_REVIEW</text><text class="tx e" x="250" y="20">[table]</text><text class="tx" x="5" y="46">...</text><text class="tx" x="5" y="70">&lt; 1</text><text class="tx e" x="205" y="70">1,170 rows</text></g>
<g id="UAC_SIR_FOLLOWUP_RPT" transform="translate(726,4106)"><rect class="hd" width="290" height="29"/><rect class="bd" y="29" width="290" height="24"/><rect class="bd" y="53" width="108" height="24"/><rect class="bd" x="108" y="53" width="126" height="24"/><rect class="bd" x="234" y="53" width="56" height="24"/><text class="nm" x="7" y="20">UAC_SIR_FOLLOWUP_RPT</text><text class="tx e" x="283" y="20">[table]</text><text class="tx" x="5" y="46">...</text><text class="tx" x="5" y="70">&lt; 1</text><text class="tx e" x="229" y="70">1,472 rows</text></g>
<g id="UAC_UNLOCKED_HIST" transform="translate(742,4211)"><rect class="hd" width="257" height="29"/><rect class="bd" y="29" width="257" height="24"/><rect class="bd" y="53" width="91" height="24"/><rect class="bd" x="91" y="53" width="119" height="24"/><rect class="bd" x="210" y="53" width="47" height="24"/><text class="nm" x="7" y="20">UAC_UNLOCKED_HIST</text><text class="tx e" x="250" y="20">[table]</text><text class="tx" x="5" y="46">...</text><text class="tx" x="5" y="70">&lt; 1</text><text class="tx e" x="205" y="70">5,528 rows</text></g>
<g id="V_CR_MEDICAL_HISTORY" transform="translate(730,4317)"><rect class="hd" width="281" height="29"/><rect class="bd" y="29" width="281" height="24"/><text class="nm" x="7" y="20">V_CR_MEDICAL_HISTORY</text><text class="tx e" x="274" y="20">[view]</text><text class="tx" x="5" y="46">...</text></g>
<g id="TEMP4" transform="translate(1285,4397)"><rect class="hd" width="119" height="29"/><rect class="bd" y="29" width="119" height="24"/><text class="nm" x="7" y="20">TEMP4</text><text class="tx e" x="113" y="20">[view]</text><text class="tx" x="5" y="46">...</text></g>
<g id="V_CR_MEDICATION_HISTORY" transform="translate(713,4434)"><rect class="hd" width="315" height="29"/><rect class="bd" y="29" width="315" height="24"/><text class="nm" x="7" y="20">V_CR_MEDICATION_HISTORY</text><text class="tx e" x="308" y="20">[view]</text><text class="tx" x="5" y="46">...</text></g>
<g id="V_UAC_SPONSOR_HOUSEHOLD" transform="translate(702,4516)"><rect class="hd" width="335" height="29"/><rect class="bd" y="29" width="335" height="24"/><text class="nm" x="7" y="20">V_UAC_SPONSOR_HOUSEHOLD</text><text class="tx e" x="328" y="20">[view]</text><text class="tx" x="5" y="46">...</text></g>
<g id="V_SIR_SOHN" transform="translate(1260,4514)"><rect class="hd" width="171" height="29"/><rect class="bd" y="29" width="171" height="24"/><text class="nm" x="7" y="20">V_SIR_SOHN</text><text class="tx e" x="164" y="20">[view]</text><text class="tx" x="5" y="46">...</text></g>
<g id="TEMP6" transform="translate(1285,4596)"><rect class="hd" width="119" height="29"/><rect class="bd" y="29" width="119" height="24"/><text class="nm" x="7" y="20">TEMP6</text><text class="tx e" x="113" y="20">[view]</text><text class="tx" x="5" y="46">...</text></g>
<g id="V_ASSESSMENT_RPT" transform="translate(1223,4677)"><rect class="hd" width="244" height="29"/><rect class="bd" y="29" width="244" height="24"/><text class="nm" x="7" y="20">V_ASSESSMENT_RPT</text><text class="tx e" x="237" y="20">[view]</text><text class="tx" x="5" y="46">...</text></g>
<g id="V_ADRIANA_SPONSOR_SEARCH_SI" transform="translate(688,4742)"><rect class="hd" width="364" height="29"/><rect class="bd" y="29" width="364" height="24"/><text class="nm" x="7" y="20">V_ADRIANA_SPONSOR_SEARCH_SI</text><text class="tx e" x="357" y="20">[view]</text><text class="tx" x="5" y="46">...</text></g>
<g id="V_UAC_PROGRAM_INFO_MIR" transform="translate(714,4822)"><rect class="hd" width="313" height="29"/><rect class="bd" y="29" width="313" height="24"/><text class="nm" x="7" y="20">V_UAC_PROGRAM_INFO_MIR</text><text class="tx e" x="306" y="20">[view]</text><text class="tx" x="5" y="46">...</text></g>
<g id="V_ADRIANA_SPONSOR_SEARCH_SL" transform="translate(685,4904)"><rect class="hd" width="370" height="29"/><rect class="bd" y="29" width="370" height="24"/><text class="nm" x="7" y="20">V_ADRIANA_SPONSOR_SEARCH_SL</text><text class="tx e" x="363" y="20">[view]</text><text class="tx" x="5" y="46">...</text></g>
<g id="UAC_PROGRAM_INFO_BACKUP" transform="translate(704,4984)"><rect class="hd" width="333" height="29"/><rect class="bd" y="29" width="333" height="24"/><rect class="bd" y="53" width="130" height="24"/><rect class="bd" x="130" y="53" width="137" height="24"/><rect class="bd" x="267" y="53" width="66" height="24"/><text class="nm" x="7" y="20">UAC_PROGRAM_INFO_BACKUP</text><text class="tx e" x="326" y="20">[table]</text><text class="tx" x="5" y="46">...</text><text class="tx" x="5" y="70">&lt; 2</text><text class="tx e" x="262" y="70">2,250 rows</text></g>
<g id="UAC_TRANSFER_REQUEST" transform="translate(723,5090)"><rect class="hd" width="295" height="29"/><rect class="bd" y="29" width="295" height="24"/><rect class="bd" y="53" width="106" height="24"/><rect class="bd" x="106" y="53" width="133" height="24"/><rect class="bd" x="239" y="53" width="56" height="24"/><text class="nm" x="7" y="20">UAC_TRANSFER_REQUEST</text><text class="tx e" x="288" y="20">[table]</text><text class="tx" x="5" y="46">...</text><text class="tx" x="5" y="70">&lt; 2</text><text class="tx e" x="234" y="70">57,939 rows</text></g>
<g id="V_SIR_RPT" transform="translate(1269,5124)"><rect class="hd" width="153" height="29"/><rect class="bd" y="29" width="153" height="24"/><text class="nm" x="7" y="20">V_SIR_RPT</text><text class="tx e" x="146" y="20">[view]</text><text class="tx" x="5" y="46">...</text></g>
<g id="V_UAC_PROG_INFO" transform="translate(756,5195)"><rect class="hd" width="230" height="29"/><rect class="bd" y="29" width="230" height="24"/><text class="nm" x="7" y="20">V_UAC_PROG_INFO</text><text class="tx e" x="223" y="20">[view]</text><text class="tx" x="5" y="46">...</text></g>
<g id="UAC_DISCHARGE_NOTIFICATION" transform="translate(695,5313)"><rect class="hd" width="351" height="29"/><rect class="bd" y="29" width="351" height="24"/><rect class="bd" y="53" width="129" height="24"/><rect class="bd" x="129" y="53" width="155" height="24"/><rect class="bd" x="284" y="53" width="67" height="24"/><text class="nm" x="7" y="20">UAC_DISCHARGE_NOTIFICATION</text><text class="tx e" x="344" y="20">[table]</text><text class="tx" x="5" y="46">...</text><text class="tx" x="5" y="70">&lt; 2</text><text class="tx e" x="279" y="70">384,876 rows</text></g>

<g id="UAC_MEDICAL_VISIT_TYPE" transform="translate(1196,5599)"><rect class="hd" width="298" height="29"/><rect class="bd" y="29" width="298" height="24"/><rect class="bd" y="53" width="107" height="24"/><rect class="bd" x="107" y="53" width="135" height="24"/><rect class="bd" x="242" y="53" width="56" height="24"/><text class="nm" x="7" y="20">UAC_MEDICAL_VISIT_TYPE</text><text class="tx e" x="291" y="20">[table]</text><text class="tx" x="5" y="46">...</text><text class="tx" x="5" y="70">&lt; 2</text><text class="tx e" x="237" y="70">76,320 rows</text></g>
<g id="LIST_DOC_VISIT_TYPE" transform="translate(310,5659)"><rect class="hd" width="255" height="29"/><rect class="bd" y="29" width="255" height="24"/><rect class="bd" y="53" width="85" height="24"/><rect class="bd" x="85" y="53" width="100" height="24"/><rect class="bd" x="185" y="53" width="70" height="24"/><text class="nm" x="7" y="20">LIST_DOC_VISIT_TYPE</text><text class="tx e" x="248" y="20">[table]</text><text class="tx" x="5" y="46">...</text><text class="tx e" x="180" y="70">15 rows</text><text class="tx e" x="250" y="70">2 &gt;</text></g>
<g id="UAC_MEDICAL_VISIT_REASON" transform="translate(1182,5705)"><rect class="hd" width="326" height="29"/><rect class="bd" y="29" width="326" height="29"/><rect class="bd" y="58" width="326" height="24"/><rect class="bd" y="82" width="121" height="24"/><rect class="bd" x="121" y="82" width="142" height="24"/><rect class="bd" x="263" y="82" width="63" height="24"/><text class="nm" x="7" y="20">UAC_MEDICAL_VISIT_REASON</text><text class="tx e" x="319" y="20">[table]</text><use xlink:href="#kG" x="14" y="43"/><text class="tx" x="45" y="49">VISIT_ID</text><text class="tx" x="5" y="75">...</text><text class="tx" x="5" y="99">&lt; 1</text><text class="tx e" x="258" y="99">76,264 rows</text></g>
<g id="LIST_DOC_VISIT_REASON" transform="translate(293,5790)"><rect class="hd" width="287" height="29"/><rect class="bd" y="29" width="287" height="29"/><rect class="bd" y="58" width="287" height="24"/><rect class="bd" y="82" width="102" height="24"/><rect class="bd" x="102" y="82" width="109" height="24"/><rect class="bd" x="211" y="82" width="76" height="24"/><text class="nm" x="7" y="20">LIST_DOC_VISIT_REASON</text><text class="tx e" x="280" y="20">[table]</text><use xlink:href="#kY" x="15" y="43"/><text class="tx" x="45" y="49">VISIT_REASON_ID</text><text class="tx" x="5" y="75">...</text><text class="tx e" x="206" y="99">13 rows</text><text class="tx e" x="282" y="99">1 &gt;</text></g>
<g id="UAC_MEDICAL_VISIT_DIAGNOSIS" transform="translate(1169,6045)"><rect class="hd" width="352" height="29"/><rect class="bd" y="29" width="352" height="24"/><rect class="bd" y="53" width="134" height="24"/><rect class="bd" x="134" y="53" width="149" height="24"/><rect class="bd" x="283" y="53" width="69" height="24"/><text class="nm" x="7" y="20">UAC_MEDICAL_VISIT_DIAGNOSIS</text><text class="tx e" x="345" y="20">[table]</text><text class="tx" x="5" y="46">...</text><text class="tx" x="5" y="70">&lt; 2</text><text class="tx e" x="278" y="70">76,237 rows</text></g>
<g id="LIST_DOC_DIAGNOSIS" transform="translate(307,6087)"><rect class="hd" width="258" height="29"/><rect class="bd" y="29" width="258" height="24"/><rect class="bd" y="53" width="87" height="24"/><rect class="bd" x="87" y="53" width="100" height="24"/><rect class="bd" x="187" y="53" width="71" height="24"/><text class="nm" x="7" y="20">LIST_DOC_DIAGNOSIS</text><text class="tx e" x="251" y="20">[table]</text><text class="tx" x="5" y="46">...</text><text class="tx e" x="182" y="70">16 rows</text><text class="tx e" x="253" y="70">2 &gt;</text></g>

<g id="UAC_DOCTOR_VISIT" transform="translate(665,5671)">
<rect class="hd" width="410" height="30"/>
<rect class="bd" y="30" width="254" height="29.5"/><rect class="bd" x="254" y="30" width="156" height="29.5"/>
<rect class="bd" y="59.5" width="254" height="29.5"/><rect class="bd" x="254" y="59.5" width="156" height="29.5"/>
<rect class="bd" y="89" width="254" height="29.5"/><rect class="bd" x="254" y="89" width="156" height="29.5"/>
<rect class="bd" y="118.5" width="254" height="29.5"/><rect class="bd" x="254" y="118.5" width="156" height="29.5"/>
<rect class="bd" y="148" width="254" height="29.5"/><rect class="bd" x="254" y="148" width="156" height="29.5"/>
<rect class="bd" y="177.5" width="254" height="29.5"/><rect class="bd" x="254" y="177.5" width="156" height="29.5"/>
<rect class="bd" y="207" width="254" height="29.5"/><rect class="bd" x="254" y="207" width="156" height="29.5"/>
<rect class="bd" y="236.5" width="254" height="29.5"/><rect class="bd" x="254" y="236.5" width="156" height="29.5"/>
<rect class="bd" y="266" width="254" height="29.5"/><rect class="bd" x="254" y="266" width="156" height="29.5"/>
<rect class="bd" y="295.5" width="254" height="29.5"/><rect class="bd" x="254" y="295.5" width="156" height="29.5"/>
<rect class="bd" y="325" width="254" height="29.5"/><rect class="bd" x="254" y="325" width="156" height="29.5"/>
<rect class="bd" y="354.5" width="254" height="29.5"/><rect class="bd" x="254" y="354.5" width="156" height="29.5"/>
<rect class="bd" y="384" width="254" height="29.5"/><rect class="bd" x="254" y="384" width="156" height="29.5"/>
<rect class="bd" y="413.5" width="254" height="29.5"/><rect class="bd" x="254" y="413.5" width="156" height="29.5"/>
<rect class="bd" y="443" width="254" height="29.5"/><rect class="bd" x="254" y="443" width="156" height="29.5"/>
<rect class="bd" y="472.5" width="254" height="29.5"/><rect class="bd" x="254" y="472.5" width="156" height="29.5"/>
<rect class="bd" y="502" width="254" height="29.5"/><rect class="bd" x="254" y="502" width="156" height="29.5"/>
<rect class="bd" y="531.5" width="254" height="29.5"/><rect class="bd" x="254" y="531.5" width="156" height="29.5"/>
<rect class="bd" y="561" width="116" height="24"/><rect class="bd" x="116" y="561" width="138" height="24"/><rect class="bd" x="254" y="561" width="156" height="24"/>
<rect class="thick" width="410" height="585"/>
<text class="nm" x="10" y="21">UAC_DOCTOR_VISIT</text><text class="tx e" x="401" y="21">[table]</text>
<use xlink:href="#kY" x="16" y="44"/><text class="tx" x="30" y="50">VISIT_ID</text><text class="tx" x="259" y="50">number[38]</text>
<use xlink:href="#kG" x="16" y="73.5"/><text class="tx" x="30" y="79.5">UAC_PROGRAM_ID</text><text class="tx" x="259" y="79.5">number[38]</text>
<text class="tx" x="30" y="109">DATE_OF_VISIT</text><text class="tx" x="259" y="109">date[7]</text>
<use xlink:href="#kG" x="16" y="132.5"/><text class="tx" x="30" y="138.5">VISIT_TYPE_ID</text><text class="tx" x="259" y="138.5">number[3]</text>
<use xlink:href="#kG" x="16" y="162"/><text class="tx" x="30" y="168">VISIT_REASON_ID</text><text class="tx" x="259" y="168">number[3]</text>
<text class="tx" x="30" y="197.5">CPECIFY_IF_OTHER</text><text class="tx" x="259" y="197.5">varchar2[112]</text>
<use xlink:href="#kG" x="16" y="221"/><text class="tx" x="30" y="227">DIAGNOSIS_ID</text><text class="tx" x="259" y="227">number[3]</text>
<text class="tx" x="30" y="256.5">SUMMARY_OF_OUTCOME</text><text class="tx" x="259" y="256.5">varchar2[4000]</text>
<text class="tx" x="30" y="286">DOSE</text><text class="tx" x="259" y="286">number[38]</text>
<text class="tx" x="30" y="315.5">DRUG_USE_DIRECTION</text><text class="tx" x="259" y="315.5">varchar2[4000]</text>
<text class="tx" x="30" y="345">DRUG_DATE_STARTED</text><text class="tx" x="259" y="345">date[7]</text>
<text class="tx" x="30" y="374.5">PSYCHOTROPIC_MED</text><text class="tx" x="259" y="374.5">number[1]</text>
<text class="tx" x="30" y="404">REASON_FOR_DRUG</text><text class="tx" x="259" y="404">varchar2[4000]</text>
<text class="tx" x="30" y="433.5">DATE_CREATED</text><text class="tx" x="259" y="433.5">date[7]</text>
<text class="tx" x="30" y="463">USER_CREATED</text><text class="tx" x="259" y="463">varchar2[112]</text>
<text class="tx" x="30" y="492.5">UPTIME</text><text class="tx" x="259" y="492.5">timestamp(6)[11,6]</text>
<text class="tx" x="30" y="522">UPUSER</text><text class="tx" x="259" y="522">varchar2[112]</text>
<text class="tx" x="30" y="551.5">DRUG_NAME</text><text class="tx" x="259" y="551.5">varchar2[112]</text>
<text class="tx" x="5" y="578">&lt; 4</text><text class="tx e" x="249" y="578">0 rows</text><text class="tx e" x="405" y="578">3 &gt;</text>
</g>

<text class="tx" x="16" y="6357">Generated by SchemaSpy</text>
</svg>
